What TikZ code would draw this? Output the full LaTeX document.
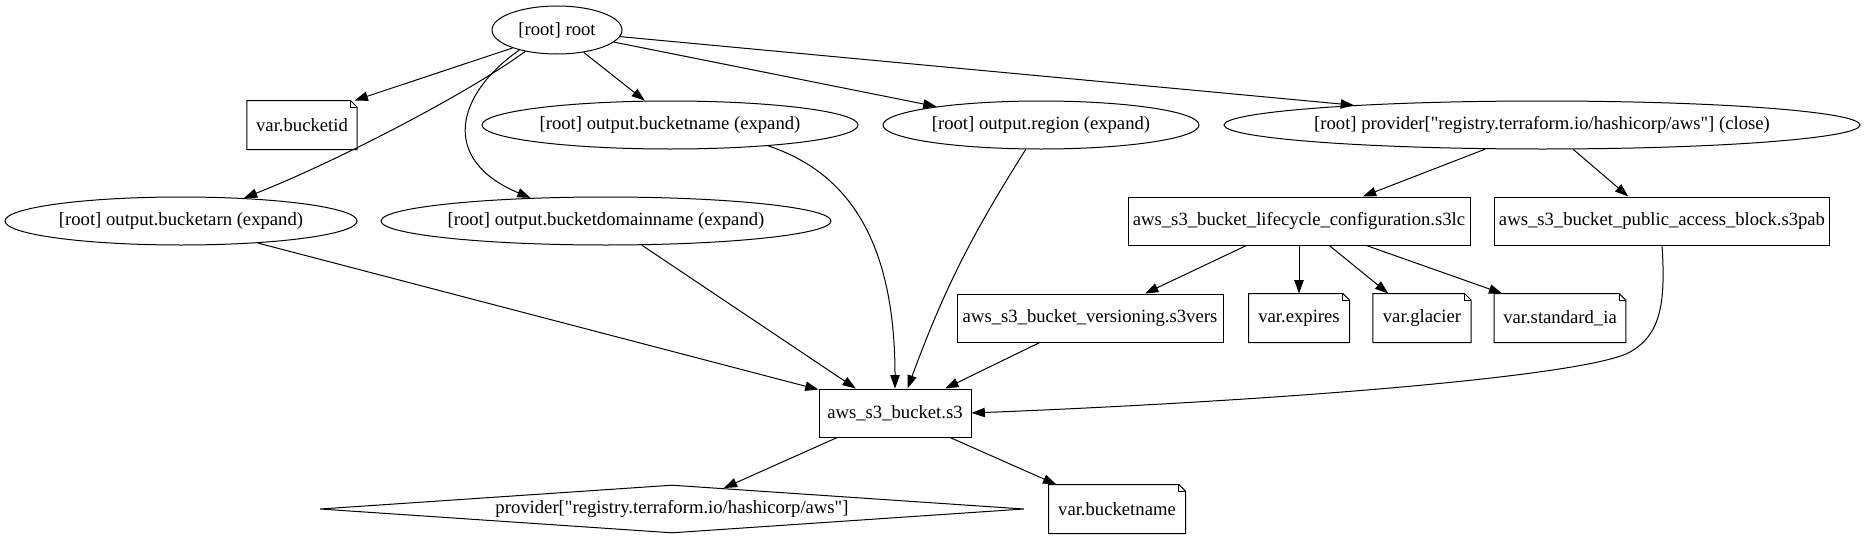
\documentclass[tikz,border=0pt]{standalone}
\usepackage{fontspec}
\setmainfont{Liberation Serif}
\newfontfamily\gvfont{Liberation Serif}
\usetikzlibrary{shapes.geometric,arrows.meta}
\newcommand\notenode[4]{%
  \node[notebox, minimum width=#3] (#1) at (#2) {#4};
  \draw[line width=0.75pt] (#1.south west) -- (#1.north west) -- ([xshift=-5pt]#1.north east) -- ([yshift=-5pt]#1.north east) -- (#1.south east) -- cycle;
  \draw[line width=0.75pt] ([xshift=-5pt]#1.north east) |- ([yshift=-5pt]#1.north east);
}
\begin{document}
\begin{tikzpicture}[x=0.75pt,y=-0.75pt,
  every node/.style={font=\gvfont\fontsize{14}{17}\selectfont, inner sep=0pt, line width=0.75pt},
  ell/.style={ellipse, draw, minimum height=36pt},
  box/.style={rectangle, draw, minimum height=36pt},
  notebox/.style={rectangle, minimum height=36pt},
  dia/.style={diamond, draw, minimum height=36pt},
  conn/.style={-{Triangle[length=10pt,width=7pt]}, line width=0.75pt},
]
\useasboundingbox (0,0) rectangle (1866,539);

% ellipses
\node[ell, minimum width=97.5pt, label={center:{[root] root}}] (root) at (557,30) {};
\node[ell, minimum width=282pt, label={center:{[root] output.bucketname (expand)}}] (obn) at (670,125) {};
\node[ell, minimum width=237pt, label={center:{[root] output.region (expand)}}] (oreg) at (1041,125) {};
\node[ell, minimum width=477pt, label={center:{[root] provider["registry.terraform.io/hashicorp/aws"] (close)}}] (pclose) at (1542,125) {};
\node[ell, minimum width=264pt, label={center:{[root] output.bucketarn (expand)}}] (oarn) at (181,221) {};
\node[ell, minimum width=337.5pt, label={center:{[root] output.bucketdomainname (expand)}}] (odom) at (606,221) {};

% boxes
\node[box, minimum width=256.5pt] (s3lc) at (1299,221) {aws\_s3\_bucket\_lifecycle\_configuration.s3lc};
\node[box, minimum width=251pt] (s3pab) at (1662,221) {aws\_s3\_bucket\_public\_access\_block.s3pab};
\node[box, minimum width=199.5pt] (s3vers) at (1090,318) {aws\_s3\_bucket\_versioning.s3vers};
\node[box, minimum width=114pt] (s3) at (895,413) {aws\_s3\_bucket.s3};

% notes
\notenode{bucketid}{302,125}{82pt}{var.bucketid}
\notenode{expires}{1299,318}{75pt}{var.expires}
\notenode{glacier}{1422,318}{73pt}{var.glacier}
\notenode{stdia}{1560,318}{98pt}{var.standard\_ia}
\notenode{vbn}{1117,509}{102pt}{var.bucketname}

% diamond
\node[dia, minimum width=528pt, label={center:{provider["registry.terraform.io/hashicorp/aws"]}}] (prov) at (672,509) {};

% connectors
\draw[conn] (root.202) -- (bucketid.25);
\draw[conn] (root.-40) -- (obn.136);
\draw[conn] (root.-12.6) -- (oreg.170);
\draw[conn] (root.-6) -- (pclose.174.5);
\draw[conn] (root.214) .. controls (470,92) and (340,160) .. (oarn.20);
\draw[conn] (root.208) .. controls (455,95) and (440,160) .. (odom.163);
\draw[conn] (obn.-12) .. controls (840,170) and (895,230) .. (s3.90);
\draw[conn] (oreg.-122) to[bend right=6] (s3.63);
\draw[conn] (oarn.-16.4) -- (s3.163);
\draw[conn] (odom.-34) -- (s3.148);
\draw[conn] (s3vers.206) -- (s3.26);
\draw[conn] (s3pab.south) .. controls (1666,305) and (1660,335) .. (1630,352) .. controls (1590,375) and (1300,400) .. (s3.east);
\draw[conn] (pclose.-157.5) -- (s3lc.21);
\draw[conn] (pclose.-38.7) -- (s3pab.144);
\draw[conn] (s3lc.205) -- (s3vers.24);
\draw[conn] (s3lc.south) -- (expires.north);
\draw[conn] (s3lc.-39.6) -- (glacier.144);
\draw[conn] (s3lc.-20) -- (stdia.157);
\draw[conn] (s3.203.6) -- (prov.22.8);
\draw[conn] (s3.-24.4) -- (vbn.158);
\end{tikzpicture}
\end{document}
